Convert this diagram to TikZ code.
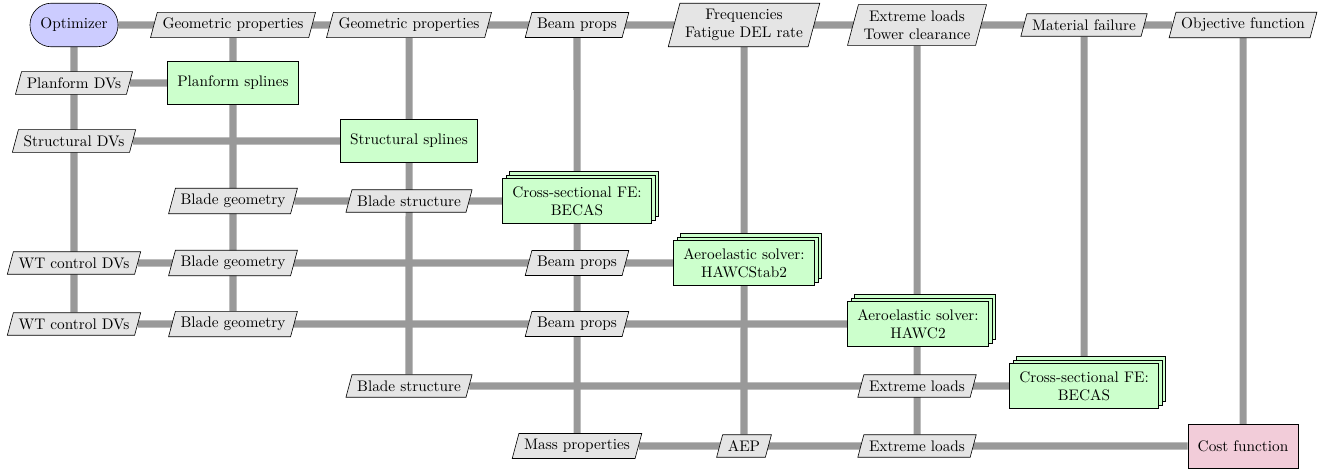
\documentclass[tikz,border=0pt]{standalone}
\usetikzlibrary{shapes.geometric,shadows,backgrounds}
\definecolor{linegray}{RGB}{153,153,153}
\begin{document}
\begin{tikzpicture}[x=0.6536pt,y=-0.6536pt,
  every node/.style={align=center},
  optbox/.style={draw, fill=blue!20, rectangle, rounded corners=14pt, minimum height=28.5pt, inner xsep=6.8pt},
  funcbox/.style={draw, fill=green!20, rectangle, inner xsep=6.4pt, inner ysep=5pt, minimum height=28pt},
  stackbox/.style={funcbox,
    general shadow={shadow xshift=4.6pt, shadow yshift=4.6pt, fill=green!20, draw=black},
    general shadow={shadow xshift=2.3pt, shadow yshift=2.3pt, fill=green!20, draw=black}},
  costbox/.style={draw, fill=purple!20, rectangle, inner xsep=6.4pt, inner ysep=5pt, minimum height=28.5pt},
  databox/.style={draw, fill=gray!20, trapezium, trapezium left angle=75, trapezium right angle=105, inner xsep=3.4pt, inner ysep=3.8pt},
  dataline/.style={draw=linegray, line width=4.6pt}
]
\useasboundingbox (0,0) rectangle (1322,468);
% row 0
\node[optbox]  (opt)  at (74,25)   {Optimizer};
\node[databox] (gp1)  at (233,25)  {Geometric properties};
\node[databox] (gp2)  at (409,25)  {Geometric properties};
\node[databox] (bp0)  at (577,25)  {Beam props};
\node[databox] (freq) at (744,25)  {Frequencies\\Fatigue DEL rate};
\node[databox] (ext0) at (917,25)  {Extreme loads\\Tower clearance};
\node[databox] (mat)  at (1084,25) {Material failure};
\node[databox] (obj)  at (1243,25) {Objective function};
% row 1
\node[databox] (pdv)  at (74,83)   {Planform DVs};
\node[funcbox] (psp)  at (233,83)  {Planform splines};
% row 2
\node[databox] (sdv)  at (74,141)  {Structural DVs};
\node[funcbox] (ssp)  at (409,141) {Structural splines};
% row 3
\node[databox] (bg3)  at (233,201) {Blade geometry};
\node[databox] (bs3)  at (409,201) {Blade structure};
\node[stackbox] (becA) at (577,201) {Cross-sectional FE:\\BECAS};
% row 4
\node[databox] (wt4)  at (74,263)  {WT control DVs};
\node[databox] (bg4)  at (233,263) {Blade geometry};
\node[databox] (bp4)  at (577,263) {Beam props};
\node[stackbox] (hs2) at (744,263) {Aeroelastic solver:\\HAWCStab2};
% row 5
\node[databox] (wt5)  at (74,324)  {WT control DVs};
\node[databox] (bg5)  at (233,324) {Blade geometry};
\node[databox] (bp5)  at (577,324) {Beam props};
\node[stackbox] (hw2) at (918,324) {Aeroelastic solver:\\HAWC2};
% row 6
\node[databox] (bs6)  at (409,386) {Blade structure};
\node[databox] (el6)  at (917,386) {Extreme loads};
\node[stackbox] (becB) at (1084,386) {Cross-sectional FE:\\BECAS};
% row 7
\node[databox] (mp7)  at (577,446) {Mass properties};
\node[databox] (aep)  at (744,446) {AEP};
\node[databox] (el7)  at (917,446) {Extreme loads};
\node[costbox] (cost) at (1243,446) {Cost function};

\begin{pgfonlayer}{background}
% horizontal
\draw[dataline] (opt) -- (obj);
\draw[dataline] (pdv) -- (psp);
\draw[dataline] (sdv) -- (ssp);
\draw[dataline] (bg3) -- (becA);
\draw[dataline] (wt4) -- (hs2);
\draw[dataline] (wt5) -- (hw2);
\draw[dataline] (bs6) -- (becB);
\draw[dataline] (mp7) -- (cost);
% vertical
\draw[dataline] (opt) -- (wt5);
\draw[dataline] (gp1) -- (bg5);
\draw[dataline] (gp2) -- (bs6);
\draw[dataline] (bp0) -- (mp7);
\draw[dataline] (freq) -- (aep);
\draw[dataline] (ext0) -- (el7);
\draw[dataline] (mat) -- (becB);
\draw[dataline] (obj) -- (cost);
\end{pgfonlayer}
\end{tikzpicture}
\end{document}
